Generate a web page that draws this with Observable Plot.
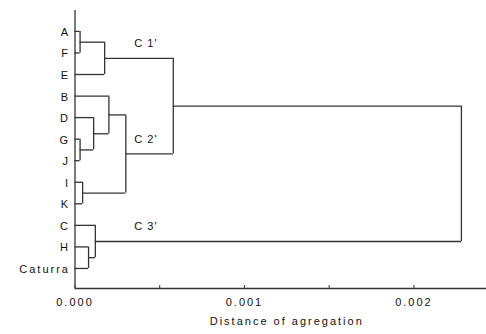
<!DOCTYPE html>
<html>
<head>
<meta charset="utf-8">
<script src="https://cdn.jsdelivr.net/npm/d3@7"></script>
<script src="https://cdn.jsdelivr.net/npm/@observablehq/plot@0.6"></script>
<style>
  html, body { margin: 0; padding: 0; background: #fff; }
  #chart svg { display: block; }
  #chart svg text { letter-spacing: 2px; }
  #chart svg [aria-description="cluster-labels"] text { letter-spacing: 1px; }
</style>
</head>
<body>
<div id="chart"></div>
<script>
// Leaves, top to bottom
const leaves = ["A", "F", "E", "B", "D", "G", "J", "I", "K", "C", "H", "Caturra"];
// Merges: ids < 12 are leaves, id 12+k is merge k
const mergeLeft  = [0, 5, 7, 10, 4, 9, 12, 3, 19, 18, 21];
const mergeRight = [1, 6, 8, 11, 13, 15, 2, 16, 14, 20, 17];
const mergeHeight = [0.00003, 0.00003, 0.000045, 0.00008, 0.00011, 0.00012, 0.000175, 0.0002, 0.0003, 0.00058, 0.00228];
// Cluster labels and the merge they name
const clusterNames = ["C 1'", "C 2'", "C 3'"];
const clusterMerges = [6, 8, 5];
// Axis ticks
const majorTicks = [0, 0.001, 0.002];
const minorTicks = [0.0005, 0.0015];
const axisTitle = "Distance of agregation";

// Layout of the tree
const nodes = leaves.map((name, i) => ({x: 0, y: i}));
const horiz = [], vert = [];
mergeHeight.forEach((h, k) => {
  const a = nodes[mergeLeft[k]], b = nodes[mergeRight[k]];
  horiz.push({x1: a.x, x2: h, y: a.y});
  horiz.push({x1: b.x, x2: h, y: b.y});
  vert.push({x: h, y1: a.y, y2: b.y});
  nodes.push({x: h, y: (a.y + b.y) / 2});
});
const clusters = clusterNames.map((name, i) => ({name, ...nodes[leaves.length + clusterMerges[i]]}));

const yDomain = [-0.97, 11.93];
const xDomain = [0, 0.002428];
const stroke = "#333";
const font = "'Liberation Sans', Arial, sans-serif";

const chart = Plot.plot({
  width: 486,
  height: 334,
  marginLeft: 74.5,
  marginRight: 0,
  marginTop: 10,
  marginBottom: 46,
  style: {fontFamily: font, fontSize: "11px", color: "#111", background: "#fff"},
  x: {domain: xDomain},
  y: {domain: yDomain, reverse: true, axis: null},
  marks: [
    Plot.axisX({ticks: majorTicks, tickSize: 0, tickPadding: 10, tickFormat: d3.format(".3f"), label: null, fontSize: 11}),
    Plot.axisX({ticks: minorTicks.concat(majorTicks), tickSize: -3, tickFormat: () => "", label: null, stroke}),
    Plot.ruleX([0], {stroke, strokeWidth: 1.3}),
    Plot.ruleY([yDomain[1]], {x1: xDomain[0], x2: xDomain[1], stroke, strokeWidth: 1.3}),
    Plot.ruleY(horiz, {x1: "x1", x2: "x2", y: "y", stroke, strokeWidth: 1.3}),
    Plot.ruleX(vert, {x: "x", y1: "y1", y2: "y2", stroke, strokeWidth: 1.3}),
    Plot.text(leaves, {x: 0, y: (d, i) => i, text: d => d, textAnchor: "end", dx: -5, dy: 1, fill: "#111", fontSize: 11}),
    Plot.text(clusters, {x: 0.00035, y: "y", text: "name", textAnchor: "start", dy: -15, fill: "#111", fontSize: 11, ariaDescription: "cluster-labels"}),
    Plot.text([axisTitle], {frameAnchor: "bottom", dy: 36, dx: 6, fill: "#111", fontSize: 11})
  ]
});
document.getElementById("chart").appendChild(chart);
</script>
</body>
</html>
